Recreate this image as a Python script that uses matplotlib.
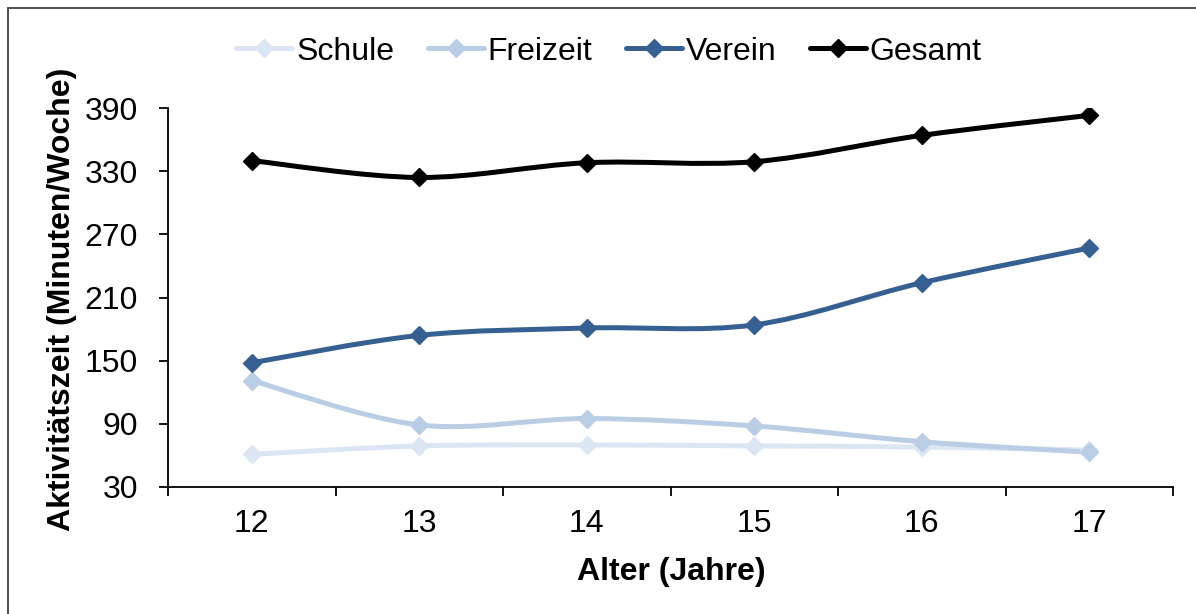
import numpy as np
import matplotlib.pyplot as plt
from matplotlib.path import Path
from matplotlib.patches import PathPatch, Rectangle
from matplotlib.lines import Line2D

plt.rcParams['font.family'] = ['Liberation Sans', 'DejaVu Sans']

# data
alter = [12, 13, 14, 15, 16, 17]
schule = [61, 69, 70, 69, 68, 65]
freizeit = [131, 89, 95, 88, 73, 63]
verein = [148, 174, 181, 184, 224, 257]
gesamt = [340, 324, 338, 339, 364, 383]

series = [('Schule', schule, '#DCE6F2'),
          ('Freizeit', freizeit, '#B9CDE5'),
          ('Verein', verein, '#376092'),
          ('Gesamt', gesamt, '#000000')]


# smoothed line like Excel (cubic bezier through the points)
def smooth_path(x, y):
    p = np.column_stack([x, y]).astype(float)
    ext = np.vstack([p[0], p, p[-1]])
    verts = [p[0]]
    codes = [Path.MOVETO]
    for i in range(len(p) - 1):
        c1 = ext[i + 1] + (ext[i + 2] - ext[i]) / 6
        c2 = ext[i + 2] - (ext[i + 3] - ext[i + 1]) / 6
        verts += [c1, c2, p[i + 1]]
        codes += [Path.CURVE4] * 3
    return Path(verts, codes)


W, H = 1196, 614
fs = 23
fig = plt.figure(figsize=(W / 100, H / 100), dpi=100)
ax = fig.add_axes([168 / W, 1 - 487 / H, (1173 - 168) / W, (487 - 108) / H])

handles = []
for name, vals, col in series:
    ax.add_patch(PathPatch(smooth_path(alter, vals), fill=False, edgecolor=col,
                           lw=3.6, capstyle='round', joinstyle='round'))
    ax.plot(alter, vals, ls='none', marker='D', ms=9.5, color=col, mec=col)
    handles.append(Line2D([], [], color=col, lw=3.6, marker='D', ms=9.5,
                          solid_capstyle='round', label=name))

ax.set_xlim(11.5, 17.5)
ax.set_ylim(30, 390)
ax.set_yticks(range(30, 391, 60))
ax.set_xticks(alter)
ax.set_xticks(np.arange(11.5, 17.6, 1), minor=True)
ax.tick_params(axis='x', which='major', length=0, labelsize=fs, pad=16)
ax.tick_params(axis='x', which='minor', length=6.5, width=1.3, direction='out')
ax.tick_params(axis='y', length=6.5, width=1.3, direction='out', labelsize=fs, pad=15)
for s in ['top', 'right']:
    ax.spines[s].set_visible(False)
for s in ['left', 'bottom']:
    ax.spines[s].set_linewidth(1.3)

fig.text(671 / W, 1 - 580 / H, 'Alter (Jahre)', fontsize=fs, fontweight='bold',
         ha='center', va='baseline')
fig.text(70 / W, 1 - 299 / H, 'Aktivitätszeit (Minuten/Woche)', fontsize=fs,
         fontweight='bold', rotation=90, rotation_mode='anchor',
         ha='center', va='baseline')

fig.legend(handles=handles, loc='center', bbox_to_anchor=(609 / W, 1 - 51.5 / H),
           ncol=4, frameon=False, fontsize=fs, handlelength=1.75, handletextpad=0.12,
           columnspacing=1.05, borderpad=0)

fig.patches.append(Rectangle((8 / W, -0.1), 1.2, 1 - 8 / H + 0.1,
                             transform=fig.transFigure, fill=False,
                             edgecolor='#404040', lw=1.3))

fig.savefig('out.png', dpi=100)
